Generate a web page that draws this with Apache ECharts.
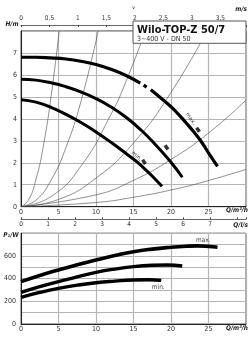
<!DOCTYPE html>
<html>
<head>
<meta charset="utf-8">
<script src="https://cdn.jsdelivr.net/npm/echarts@6/dist/echarts.min.js"></script>
<style>
  html, body { margin: 0; padding: 0; background: #fff; }
  #chart { width: 251px; height: 340px; }
</style>
</head>
<body>
<div id="chart"></div>
<script>
// pump head curves H(Q), Q in m3/h, H in m
const headMax = [[0, 6.8], [2, 6.8], [4, 6.77], [6, 6.72], [8, 6.62], [10, 6.47], [12, 6.25], [14, 5.97], [15.9, 5.62]];
const headMaxDot = [[16.35, 5.53], [16.75, 5.44]];
const headMaxTail = [[17.3, 5.32], [18, 5.13], [20, 4.55], [21, 4.2], [22, 3.82], [23, 3.42], [24, 2.98], [25, 2.45], [26.2, 1.83]];
const headMid = [[0, 5.8], [2, 5.76], [4, 5.64], [6, 5.46], [8, 5.22], [10, 4.92], [12, 4.54], [14, 4.07], [16, 3.49], [18, 2.8], [20, 2.02], [21.5, 1.34]];
const headMin = [[0, 4.87], [2, 4.76], [4, 4.52], [6, 4.2], [8, 3.83], [10, 3.4], [12, 2.93], [14, 2.42], [16, 1.88], [18.8, 0.93]];

// thin system curves through the origin
const sysCurves = [
  [[0, 0], [1, 0.3], [2, 1.25], [3, 2.8], [4, 5.0], [5.1, 8]],
  [[0, 0], [2, 0.3], [4, 1.2], [6, 2.7], [8, 4.8], [10.3, 8]],
  [[0, 0], [4, 0.46], [8, 1.85], [12, 4.2], [14, 5.7], [16.6, 8]],
  [[0, 0], [5, 0.33], [10, 1.3], [15, 2.9], [20, 5.2], [24.8, 8]],
  [[0, 0], [10, 0.54], [15, 1.2], [20, 2.15], [25, 3.35], [30, 4.85]],
  [[0, 0], [10, 0.19], [15, 0.43], [20, 0.76], [25, 1.19], [30, 1.7]]
];

// speed setting marks next to the curves
const speedMarks = [[23.6, 3.5], [19.4, 2.7], [16.4, 2.04]];

// power input P1(Q), W
const powerMax = [[0, 373], [2.5, 428], [5, 476], [7.5, 522], [10, 564], [12.5, 603], [15, 637], [17.5, 660], [20, 676], [22, 685], [23.5, 688], [25, 684], [26.2, 676]];
const powerMid = [[0, 279], [2.5, 330], [5, 373], [7.5, 416], [10, 455], [12.5, 484], [15, 505], [17.5, 517], [19.5, 520], [21.5, 511]];
const powerMin = [[0, 235], [2.5, 278], [5, 314], [7.5, 342], [10, 364], [12.5, 378], [15, 388], [17, 390], [18.7, 384]];

const Q_MAX = 30;
const V_MAX = 3.95;      // m/s at Q_MAX in DN 50
const QLS_MAX = 30 / 3.6;

const FONT = "'DejaVu Sans Condensed', 'Liberation Sans Narrow', 'DejaVu Sans', sans-serif";
const labelStyle = { fontSize: 7, color: '#333', fontFamily: FONT };
const gridLine = { show: true, lineStyle: { color: '#b4b4b4', width: 1.2 } };
const blackAxis = { show: true, lineStyle: { color: '#222', width: 1 } };

const chart = echarts.init(document.getElementById('chart'), null, { renderer: 'canvas' });

function thin(data) {
  return {
    type: 'line', data: data, xAxisIndex: 0, yAxisIndex: 0, smooth: true,
    showSymbol: false, silent: true, z: 1,
    lineStyle: { color: '#444', width: 0.6 }
  };
}

function thick(data, x, y, w) {
  return {
    type: 'line', data: data, xAxisIndex: x, yAxisIndex: y, smooth: true,
    showSymbol: false, silent: true, z: 3,
    lineStyle: { color: '#000', width: w, cap: 'butt' }
  };
}

const option = {
  animation: false,
  grid: [
    { left: 21, top: 21, width: 225, height: 185.7, show: true, borderColor: '#555', borderWidth: 1 },
    { left: 21, top: 233.2, width: 225, height: 90.8, show: true, borderColor: '#555', borderWidth: 1 }
  ],
  xAxis: [
    {
      gridIndex: 0, type: 'value', min: 0, max: Q_MAX, interval: 5, position: 'bottom',
      axisLine: blackAxis, axisTick: { show: false }, splitLine: gridLine,
      axisLabel: { ...labelStyle, margin: 2, formatter: v => (v >= Q_MAX ? '' : v) }
    },
    {
      gridIndex: 0, type: 'value', min: 0, max: V_MAX, interval: 0.5, position: 'top', offset: 6,
      name: 'v', nameLocation: 'middle', nameGap: 14, nameTextStyle: { fontSize: 5, color: '#333', fontFamily: FONT },
      axisLine: { show: true, lineStyle: { color: '#444', width: 0.8 } },
      axisTick: { show: true, length: 2, inside: true, lineStyle: { color: '#444' } },
      splitLine: { show: false },
      axisLabel: {
        ...labelStyle, fontSize: 6.5, margin: 3,
        formatter: v => (v > 3.6 ? '' : String(v).replace('.', ','))
      }
    },
    {
      gridIndex: 0, type: 'value', min: 0, max: QLS_MAX, interval: 1, position: 'bottom', offset: 12.6,
      axisLine: { show: true, lineStyle: { color: '#444', width: 0.8 } },
      axisTick: { show: true, length: 2, inside: true, lineStyle: { color: '#444' } },
      splitLine: { show: false },
      axisLabel: { ...labelStyle, fontSize: 6.5, margin: 2, formatter: v => (v > 7.5 ? '' : v) }
    },
    {
      gridIndex: 1, type: 'value', min: 0, max: Q_MAX, interval: 5, position: 'bottom',
      axisLine: blackAxis, axisTick: { show: false }, splitLine: gridLine,
      axisLabel: { ...labelStyle, margin: 2, formatter: v => (v >= Q_MAX ? '' : v) }
    }
  ],
  yAxis: [
    {
      gridIndex: 0, type: 'value', min: 0, max: 8, interval: 1,
      axisLine: blackAxis, axisTick: { show: false }, splitLine: gridLine,
      axisLabel: { ...labelStyle, margin: 4, formatter: v => (v >= 8 ? '' : v) }
    },
    {
      gridIndex: 1, type: 'value', min: 0, max: 800, interval: 100,
      axisLine: blackAxis, axisTick: { show: false }, splitLine: gridLine,
      axisLabel: { ...labelStyle, margin: 5, formatter: v => (v % 200 === 0 && v < 800 ? v : '') }
    }
  ],
  series: [
    ...sysCurves.map(thin),
    thick(headMax, 0, 0, 3.2),
    thick(headMaxDot, 0, 0, 3.2),
    thick(headMaxTail, 0, 0, 3.2),
    thick(headMid, 0, 0, 3),
    thick(headMin, 0, 0, 3),
    {
      type: 'scatter', data: speedMarks, xAxisIndex: 0, yAxisIndex: 0, silent: true, z: 4,
      symbol: 'rect', symbolSize: [3.5, 5], symbolRotate: 35, itemStyle: { color: '#000' }
    },
    thick(powerMax, 3, 1, 3.6),
    thick(powerMid, 3, 1, 3.4),
    thick(powerMin, 3, 1, 3.4)
  ]
};

chart.setOption(option);

const unitStyle = { fontSize: 6.5, fontWeight: 'bold', fontStyle: 'italic', fill: '#222', fontFamily: FONT };
const topPt = p => chart.convertToPixel({ gridIndex: 0 }, p);
const botPt = p => chart.convertToPixel({ gridIndex: 1 }, p);
const maxLbl = topPt([22.6, 4.0]);
const minLbl = topPt([15.4, 2.29]);
const pMaxLbl = botPt([24.3, 735]);
const pMinLbl = botPt([18.3, 325]);

chart.setOption({
  graphic: [
    {
      type: 'rect', z: 100, shape: { x: 133, y: 21, width: 113, height: 22.3 },
      style: { fill: '#fff', stroke: '#555', lineWidth: 1 }
    },
    {
      type: 'text', z: 101, x: 137, y: 30.5,
      style: { text: 'Wilo-TOP-Z 50/7', fontSize: 11, fontWeight: 'bold', fill: '#111', fontFamily: FONT, verticalAlign: 'middle' }
    },
    {
      type: 'text', z: 101, x: 137, y: 39.5,
      style: { text: '3~400 V - DN 50', fontSize: 7, fill: '#333', fontFamily: FONT, verticalAlign: 'middle' }
    },
    { type: 'text', z: 101, x: 12, y: 24, style: { ...unitStyle, text: 'H/m', align: 'center', verticalAlign: 'middle' } },
    { type: 'text', z: 101, x: 247, y: 9, style: { ...unitStyle, text: 'm/s', align: 'right', verticalAlign: 'middle' } },
    { type: 'text', z: 101, x: 248, y: 210.5, style: { ...unitStyle, text: 'Q/m³/h', align: 'right', verticalAlign: 'middle' } },
    { type: 'text', z: 101, x: 248, y: 225.5, style: { ...unitStyle, text: 'Q/l/s', align: 'right', verticalAlign: 'middle' } },
    { type: 'text', z: 101, x: 11, y: 235, style: { ...unitStyle, text: 'P₁/W', align: 'center', verticalAlign: 'middle' } },
    { type: 'text', z: 101, x: 248, y: 328.5, style: { ...unitStyle, text: 'Q/m³/h', align: 'right', verticalAlign: 'middle' } },
    {
      type: 'text', z: 101, x: maxLbl[0], y: maxLbl[1], rotation: -0.93,
      style: { text: 'max.', fontSize: 6, fill: '#444', fontFamily: FONT, align: 'center', verticalAlign: 'middle' }
    },
    {
      type: 'text', z: 101, x: minLbl[0], y: minLbl[1], rotation: -0.68,
      style: { text: 'min.', fontSize: 6, fill: '#444', fontFamily: FONT, align: 'center', verticalAlign: 'middle' }
    },
    {
      type: 'text', z: 101, x: pMaxLbl[0], y: pMaxLbl[1],
      style: { text: 'max.', fontSize: 6.5, fill: '#444', fontFamily: FONT, align: 'center', verticalAlign: 'middle' }
    },
    {
      type: 'text', z: 101, x: pMinLbl[0], y: pMinLbl[1],
      style: { text: 'min.', fontSize: 6.5, fill: '#444', fontFamily: FONT, align: 'center', verticalAlign: 'middle' }
    }
  ]
});
</script>
</body>
</html>
